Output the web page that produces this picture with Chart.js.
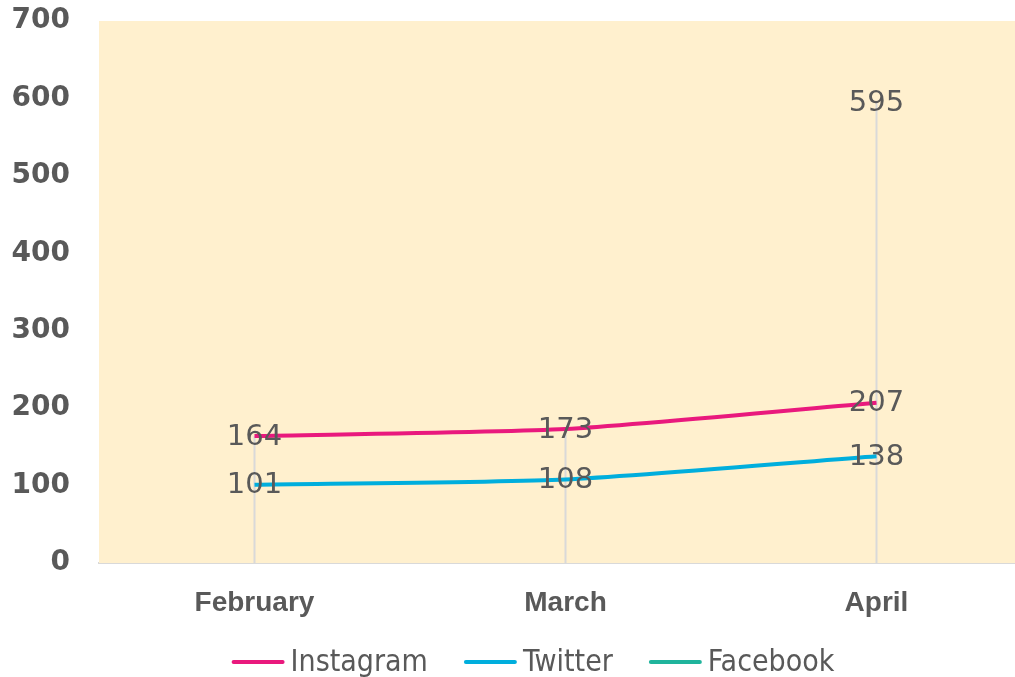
<!DOCTYPE html>
<html>
<head>
<meta charset="utf-8">
<script src="https://cdn.jsdelivr.net/npm/chart.js@4/dist/chart.umd.min.js"></script>
<style>
  html, body { margin: 0; padding: 0; background: #fff; overflow: hidden; }
  #wrap { position: absolute; left: 0; top: 0; width: 1032px; height: 677px; }
</style>
</head>
<body>
<div id="wrap"><canvas id="chart" width="1032" height="677"></canvas></div>
<script>
const months = ['February', 'March', 'April'];
const instagram = [164, 173, 207];
const twitter = [101, 108, 138];
const facebook = [null, null, 595];
const yTicks = [0, 100, 200, 300, 400, 500, 600, 700];

const textGrey = '#595959';

// plot background + drop lines from the highest point of each month
const dropLines = {
    id: 'dropLines',
    beforeDatasetsDraw(chart) {
        const { ctx, chartArea, scales } = chart;
        ctx.save();
        ctx.fillStyle = '#FFF0CE';
        ctx.fillRect(chartArea.left, chartArea.top, chartArea.right - chartArea.left, chartArea.bottom - chartArea.top);
        ctx.strokeStyle = '#D9D9D9';
        ctx.lineWidth = 2;
        months.forEach((m, i) => {
            const vals = chart.data.datasets.map(d => d.data[i]).filter(v => v != null);
            const top = Math.max(...vals);
            const x = scales.x.getPixelForValue(i);
            ctx.beginPath();
            ctx.moveTo(x, scales.y.getPixelForValue(top));
            ctx.lineTo(x, scales.y.getPixelForValue(0));
            ctx.stroke();
        });
        ctx.restore();
    }
};

// value labels centred on each point
const valueLabels = {
    id: 'valueLabels',
    afterDatasetsDraw(chart) {
        const { ctx } = chart;
        ctx.save();
        ctx.font = '29px "DejaVu Sans", sans-serif';
        ctx.fillStyle = textGrey;
        ctx.textAlign = 'center';
        ctx.textBaseline = 'middle';
        chart.data.datasets.forEach((ds, di) => {
            const meta = chart.getDatasetMeta(di);
            meta.data.forEach((pt, i) => {
                if (ds.data[i] == null) return;
                ctx.fillText(String(ds.data[i]), pt.x, pt.y + 1);
            });
        });
        ctx.restore();
    }
};

// legend row under the axis: line swatch + name, centred a bit right of canvas middle
const lineLegend = {
    id: 'lineLegend',
    afterDraw(chart) {
        const { ctx } = chart;
        const swatch = 53, gap = 6, spacing = 36, y = 663;
        ctx.save();
        ctx.font = '30px "DejaVu Sans Condensed", "DejaVu Sans", sans-serif';
        ctx.textBaseline = 'middle';
        const items = chart.data.datasets.map(ds => ({ text: ds.label, color: ds.borderColor, w: ctx.measureText(ds.label).width }));
        const total = items.reduce((s, it) => s + swatch + gap + it.w, 0) + spacing * (items.length - 1);
        let x = 533 - total / 2;
        items.forEach(it => {
            ctx.strokeStyle = it.color;
            ctx.lineWidth = 4;
            ctx.lineCap = 'round';
            ctx.beginPath();
            ctx.moveTo(x + 2, y - 1);
            ctx.lineTo(x + swatch - 2, y - 1);
            ctx.stroke();
            ctx.fillStyle = textGrey;
            ctx.fillText(it.text, x + swatch + gap, y);
            x += swatch + gap + it.w + spacing;
        });
        ctx.restore();
    }
};

new Chart(document.getElementById('chart').getContext('2d'), {
    type: 'line',
    data: {
        labels: months,
        datasets: [
            { label: 'Instagram', data: instagram, borderColor: '#E9197D', backgroundColor: '#E9197D', borderWidth: 4, pointRadius: 0, tension: 0.2 },
            { label: 'Twitter', data: twitter, borderColor: '#00AEDD', backgroundColor: '#00AEDD', borderWidth: 4, pointRadius: 0, tension: 0.2 },
            { label: 'Facebook', data: facebook, borderColor: '#20B49C', backgroundColor: '#20B49C', borderWidth: 4, pointRadius: 0, tension: 0.2 }
        ]
    },
    options: {
        responsive: false,
        animation: false,
        layout: { padding: { left: 0, right: 0, top: 21, bottom: 52 } },
        plugins: {
            legend: { display: false },
            tooltip: { enabled: false }
        },
        scales: {
            x: {
                offset: true,
                grid: { display: false, drawTicks: false },
                border: { display: true, color: '#D9D9D9', width: 2 },
                ticks: {
                    color: textGrey,
                    padding: 23,
                    font: { family: '"Liberation Sans", Arial, sans-serif', size: 28, weight: 'bold' }
                },
                afterFit(scale) { scale.height = 62; }
            },
            y: {
                min: 0,
                max: 700,
                afterBuildTicks(scale) { scale.ticks = yTicks.map(v => ({ value: v })); },
                grid: { display: false, drawTicks: false },
                border: { display: false },
                ticks: {
                    color: textGrey,
                    padding: 29,
                    font: { family: '"DejaVu Sans", sans-serif', size: 28, weight: 'bold' }
                },
                afterFit(scale) {
                    scale.width = 99;
                    scale.paddingTop = 0;
                    scale.paddingBottom = 0;
                }
            }
        }
    },
    plugins: [dropLines, valueLabels, lineLegend]
});
</script>
</body>
</html>
